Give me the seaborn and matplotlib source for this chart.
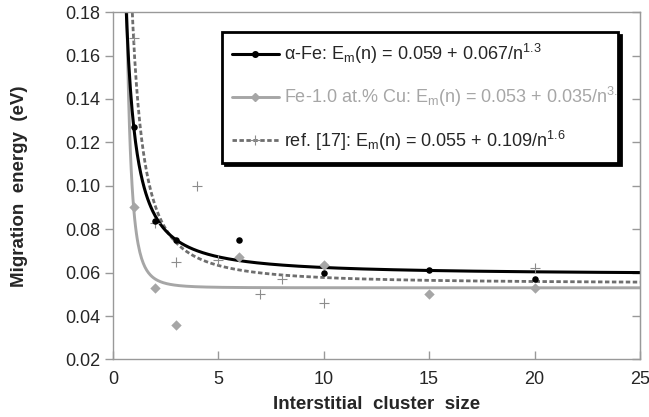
import numpy as np
import pandas as pd
import matplotlib
matplotlib.use("Agg")
import matplotlib.pyplot as plt
import seaborn as sns

# Data
fe_n = [1, 2, 3, 6, 10, 15, 20]
fe_em = [0.127, 0.084, 0.075, 0.075, 0.060, 0.061, 0.057]

cu_n = [1, 2, 3, 6, 10, 15, 20]
cu_em = [0.090, 0.053, 0.036, 0.067, 0.0635, 0.050, 0.053]

ref_n = [1, 2, 3, 4, 5, 7, 8, 10, 20]
ref_em = [0.168, 0.083, 0.065, 0.100, 0.066, 0.050, 0.057, 0.046, 0.062]

# fit parameters from the legend: Em(n) = a + b / n^c
fe_fit = [0.059, 0.067, 1.3]
cu_fit = [0.053, 0.035, 3.1]
ref_fit = [0.055, 0.109, 1.6]

labels = [
    "α-Fe: E$_\\mathregular{m}$(n) = 0.059 + 0.067/n$^\\mathregular{1.3}$",
    "Fe-1.0 at.% Cu: E$_\\mathregular{m}$(n) = 0.053 + 0.035/n$^\\mathregular{3.1}$",
    "ref. [17]: E$_\\mathregular{m}$(n) = 0.055 + 0.109/n$^\\mathregular{1.6}$",
]

sns.set_style("white")
plt.rcParams["font.family"] = ["Liberation Sans", "DejaVu Sans"]
plt.rcParams["mathtext.fontset"] = "custom"
plt.rcParams["mathtext.rm"] = "Liberation Sans"
plt.rcParams["mathtext.it"] = "Liberation Sans:italic"

fig = plt.figure(figsize=(6.49, 4.17), dpi=100)
ax = fig.add_axes([0.174, 0.138, 0.812, 0.833])

n_fine = np.linspace(0.5, 25, 600)
curves = pd.DataFrame({
    "n": n_fine,
    "fe": fe_fit[0] + fe_fit[1] / n_fine ** fe_fit[2],
    "cu": cu_fit[0] + cu_fit[1] / n_fine ** cu_fit[2],
    "ref": ref_fit[0] + ref_fit[1] / n_fine ** ref_fit[2],
})

black = "#000000"
light = "#a6a6a6"
dark = "#6e6e6e"
plus = "#8c8c8c"

sns.lineplot(data=curves, x="n", y="cu", ax=ax, color=light, linewidth=2.1)
sns.lineplot(data=curves, x="n", y="ref", ax=ax, color=dark, linewidth=2.0,
             linestyle=(0, (1.6, 0.9)))
sns.lineplot(data=curves, x="n", y="fe", ax=ax, color=black, linewidth=2.2)

sns.scatterplot(x=ref_n, y=ref_em, ax=ax, marker="+", color=plus, s=60,
                linewidth=0.8, zorder=4)
sns.scatterplot(x=cu_n, y=cu_em, ax=ax, marker="D", color=light, s=28,
                linewidth=0, zorder=5)
sns.scatterplot(x=fe_n, y=fe_em, ax=ax, marker="o", color=black, s=22,
                linewidth=0, zorder=6)

ax.set_xlim(0, 25)
ax.set_ylim(0.02, 0.18)
ax.set_xticks([0, 5, 10, 15, 20, 25])
ax.set_yticks(np.arange(0.02, 0.181, 0.02))
ax.yaxis.set_major_formatter(matplotlib.ticker.FormatStrFormatter("%.2f"))

for sp in ax.spines.values():
    sp.set_color("#999999")
    sp.set_linewidth(1.0)
ax.tick_params(axis="y", which="both", direction="out", left=True, right=False,
               length=6, width=1, color="#999999", labelsize=13, pad=3)
ax.tick_params(axis="x", direction="in", bottom=True, length=6, width=1,
               color="#999999", labelsize=13, pad=8)
# right-hand inner ticks
ax2 = ax.secondary_yaxis("right")
ax2.set_yticks(np.arange(0.02, 0.181, 0.02))
ax2.tick_params(direction="in", length=6, width=1, color="#999999",
                labelright=False)
ax2.spines["right"].set_color("#999999")

ax.set_xlabel("Interstitial  cluster  size", fontsize=13.5, fontweight="bold",
              labelpad=6)
ax.set_ylabel("Migration  energy  (eV)", fontsize=13.5, fontweight="bold",
              labelpad=27)

handles = [
    plt.Line2D([], [], color=black, linewidth=2.2, marker="o", markersize=4),
    plt.Line2D([], [], color=light, linewidth=2.1, marker="D", markersize=4),
    plt.Line2D([], [], color=dark, linewidth=2.0, linestyle=(0, (1.6, 0.9)),
               marker="+", markersize=7, markeredgewidth=0.8,
               markeredgecolor=plus),
]
leg = ax.legend(handles, labels, loc="upper left",
                bbox_to_anchor=(0.207, 0.575, 0.751, 0.368), mode="expand",
                fontsize=13, frameon=True, fancybox=False,
                shadow={"color": "black", "alpha": 1},
                handlelength=2.6, handletextpad=0.3, labelspacing=1.07,
                borderpad=0.55, borderaxespad=0)
leg.get_frame().set_edgecolor("black")
leg.get_frame().set_linewidth(2.0)
texts = leg.get_texts()
texts[1].set_color(light)

# clip legend text at the frame (the long label runs past the box)
fig.canvas.draw()
frame_box = leg.get_frame().get_window_extent()
for t in texts:
    t.set_clip_box(frame_box)
    t.set_clip_on(True)

fig.savefig("out.png", dpi=100)
